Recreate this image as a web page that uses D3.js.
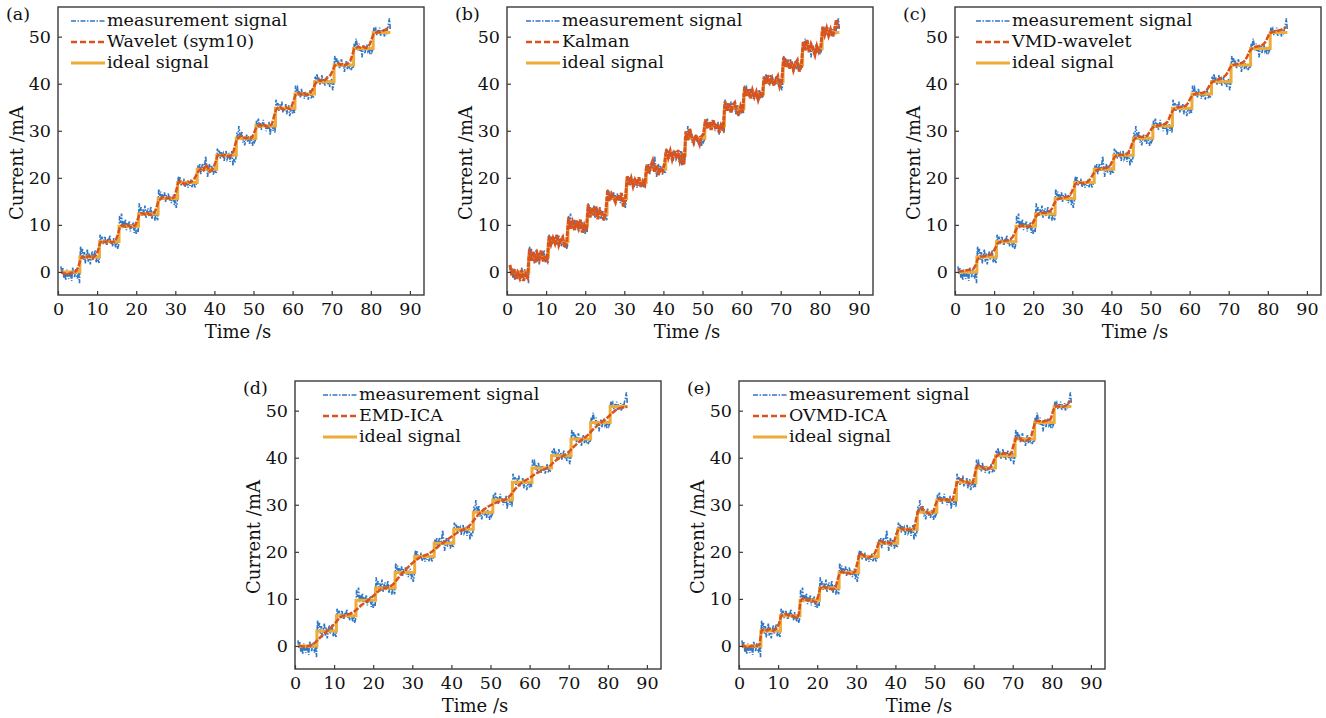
<!DOCTYPE html>
<html>
<head>
<meta charset="utf-8">
<script src="https://cdn.jsdelivr.net/npm/d3@7"></script>
<style>
  body { margin: 0; background: #fff; }
  svg text { font-family: "DejaVu Serif", serif; fill: #111; }
</style>
</head>
<body>
<div id="chart"></div>
<script>
// ---- data ----
// measurement signal, sampled every 0.25 s starting at 0.75 s, one row per 5 s step
var measT0 = 0.75, measDt = 0.25;
var measurement = [
  1.2, -0.4, 0.8, -1.2, -0.3, -1.8, 0.5, -0.9, -1.5, 0.3, -0.6, -1.9, 0.9, -0.2, -1.1, 0.6, -0.8, -1.4, 0.2, -2.4,
  5.4, 3.8, 4.9, 2.6, 4.2, 1.8, 3.5, 4.8, 2.2, 3.9, 1.6, 3.1, 4.4, 2.5, 3.7, 4.6, 2.0, 3.3, 2.4, 1.9,
  7.9, 6.8, 7.5, 5.9, 6.9, 7.6, 6.2, 5.6, 7.1, 6.5, 7.8, 6.0, 6.7, 5.4, 7.2, 6.3, 5.2, 6.6, 4.9, 5.7,
  11.9, 10.4, 12.4, 9.3, 10.8, 9.9, 11.2, 8.9, 10.3, 9.5, 10.9, 8.6, 10.1, 9.2, 10.6, 8.3, 9.8, 8.1, 9.0, 8.5,
  14.6, 12.9, 13.8, 11.9, 13.3, 12.5, 14.1, 11.4, 12.8, 13.5, 11.8, 12.6, 13.9, 11.2, 12.4, 13.1, 10.9, 12.2, 11.5, 11.0,
  17.6, 16.2, 17.1, 15.3, 16.5, 15.8, 16.9, 14.9, 16.3, 15.5, 16.7, 15.1, 16.0, 14.6, 15.9, 16.4, 14.2, 15.4, 13.6, 14.8,
  20.3, 19.5, 20.1, 18.4, 19.2, 18.7, 19.8, 18.1, 19.4, 18.6, 17.9, 19.1, 18.3, 19.6, 18.0, 18.8, 19.3, 17.8, 18.5, 19.0,
  22.6, 21.4, 22.9, 20.8, 22.2, 23.1, 21.5, 22.4, 24.6, 22.7, 20.2, 21.6, 23.0, 21.1, 22.5, 21.9, 20.7, 22.3, 21.3, 20.9,
  26.2, 25.4, 25.9, 24.1, 25.6, 24.7, 25.2, 23.6, 24.9, 25.7, 23.9, 24.4, 25.3, 23.4, 24.6, 25.8, 22.6, 24.0, 23.2, 24.3,
  29.6, 28.8, 31.0, 29.4, 28.2, 29.9, 27.5, 28.6, 26.9, 28.0, 29.2, 27.7, 28.5, 27.2, 28.9, 27.9, 26.8, 28.3, 27.6, 28.1,
  32.1, 31.5, 32.6, 30.6, 31.8, 30.2, 31.3, 32.3, 30.8, 31.6, 29.9, 31.1, 30.4, 31.9, 29.1, 30.7, 31.4, 30.0, 30.9, 29.6,
  36.6, 35.3, 35.9, 34.2, 35.6, 34.6, 36.2, 33.9, 35.1, 34.4, 35.8, 33.5, 34.9, 35.4, 33.1, 34.1, 35.0, 33.6, 34.3, 33.8,
  39.6, 38.7, 39.2, 37.4, 38.5, 37.1, 38.9, 37.6, 38.2, 36.8, 38.4, 37.3, 38.0, 36.6, 37.9, 38.6, 36.9, 37.5, 37.0, 37.7,
  41.6, 40.9, 42.1, 40.2, 41.3, 39.8, 40.7, 41.8, 40.0, 41.1, 39.6, 40.5, 41.5, 39.9, 40.8, 39.3, 40.3, 41.0, 38.6, 39.7,
  45.9, 44.6, 45.4, 43.8, 44.9, 43.3, 44.5, 45.2, 43.6, 44.2, 42.5, 43.9, 44.8, 43.1, 44.4, 43.5, 44.1, 42.9, 43.7, 43.2,
  48.6, 47.9, 49.6, 48.2, 47.1, 48.5, 46.8, 47.7, 45.6, 47.3, 48.1, 46.5, 47.6, 48.3, 46.9, 47.4, 46.2, 47.8, 46.7, 47.2,
  52.0, 51.2, 51.7, 50.3, 51.5, 50.6, 51.9, 50.1, 51.1, 50.8, 51.6, 49.9, 51.3, 50.5, 51.8, 52.6, 53.9, 51.4
];

// ideal staircase: step start times and levels, ends at 85 s
var idealTimes = [0.75, 5.6, 10.6, 15.6, 20.6, 25.6, 30.6, 35.6, 40.6, 45.6, 50.6, 55.6, 60.6, 65.6, 70.6, 75.6, 80.6];
var idealLevels = [0, 3.2, 6.4, 9.7, 12.3, 15.6, 19.0, 21.8, 24.8, 28.4, 31.0, 34.8, 37.8, 40.4, 44.0, 47.5, 50.9];
var idealEnd = 85;

// denoised outputs, every 0.5 s from 0.75 s
var filtT0 = 0.75, filtDt = 0.5;
var wavelet = [
  0.1, -0.2, -0.4, -0.3, -0.5, -0.2, -0.1, 0.0, 0.3, 1.2,
  2.6, 3.3, 3.1, 2.9, 3.4, 3.2, 2.8, 3.3, 3.6, 4.6,
  6.1, 6.6, 6.4, 6.3, 6.7, 6.5, 6.2, 6.4, 6.6, 7.8,
  9.3, 9.9, 9.8, 9.6, 10.0, 9.7, 9.5, 9.8, 9.9, 10.9,
  12.0, 12.5, 12.4, 12.2, 12.6, 12.3, 12.1, 12.4, 12.7, 13.9,
  15.2, 15.5, 15.9, 15.7, 15.6, 15.8, 15.5, 15.7, 15.9, 17.4,
  18.9, 19.3, 19.1, 18.6, 18.8, 19.2, 19.0, 19.3, 19.6, 20.4,
  21.2, 21.7, 22.0, 21.6, 22.8, 22.4, 21.3, 21.6, 22.1, 23.3,
  24.6, 25.0, 24.8, 24.6, 24.9, 24.7, 24.5, 24.8, 25.1, 26.9,
  28.2, 28.6, 28.9, 28.7, 28.5, 28.4, 28.6, 28.3, 28.8, 29.8,
  30.7, 31.1, 31.3, 30.9, 31.2, 31.0, 30.8, 31.1, 31.5, 33.1,
  34.4, 34.9, 35.1, 34.7, 34.5, 35.0, 34.8, 34.6, 35.2, 36.4,
  37.6, 38.0, 37.9, 37.7, 38.1, 37.8, 37.6, 37.9, 38.3, 39.0,
  39.9, 40.5, 40.8, 40.6, 41.0, 40.7, 41.2, 41.5, 41.9, 42.8,
  43.8, 44.1, 44.3, 44.0, 44.2, 43.9, 44.1, 44.4, 44.8, 46.1,
  47.4, 47.6, 47.9, 47.7, 48.0, 47.8, 47.6, 47.9, 48.4, 49.6,
  50.6, 50.8, 51.0, 50.9, 51.1, 51.3, 51.5, 51.7, 52.0
];
var kalman = [
  1.5, -0.8, 0.6, -1.6, -0.2, -1.3, 0.4, -1.9, -0.5, -1.2,
  4.9, 2.4, 4.3, 2.0, 3.9, 2.7, 4.6, 2.2, 3.5, 2.6,
  7.6, 5.9, 7.2, 6.1, 7.9, 5.7, 6.8, 7.4, 5.2, 6.3,
  11.6, 9.2, 10.6, 8.9, 10.9, 9.4, 11.1, 8.4, 9.9, 8.7,
  14.3, 11.6, 13.6, 12.0, 13.9, 11.2, 13.1, 12.5, 11.0, 12.8,
  17.4, 15.1, 16.6, 15.9, 14.8, 16.3, 15.2, 16.8, 13.9, 15.4,
  20.4, 18.5, 19.9, 18.2, 19.6, 18.8, 20.1, 18.0, 19.3, 18.6,
  22.8, 21.0, 22.5, 23.6, 21.3, 22.7, 20.6, 22.1, 21.5, 22.9,
  26.0, 24.3, 25.7, 23.9, 25.3, 24.5, 25.9, 23.5, 24.6, 22.8,
  29.9, 28.0, 30.4, 28.7, 27.5, 29.1, 28.2, 27.1, 28.8, 29.3,
  32.4, 30.5, 31.9, 30.2, 32.2, 30.8, 31.5, 29.6, 31.2, 30.4,
  36.2, 34.3, 35.8, 33.9, 35.5, 36.0, 34.1, 33.3, 35.2, 34.0,
  39.3, 37.4, 38.8, 36.9, 38.6, 37.2, 38.3, 36.6, 37.9, 37.1,
  41.5, 39.9, 41.8, 40.3, 41.2, 39.6, 40.8, 41.6, 39.4, 40.5,
  45.6, 43.6, 45.1, 43.2, 44.7, 42.9, 44.3, 45.0, 42.6, 43.8,
  48.9, 47.1, 49.3, 46.7, 48.4, 47.4, 46.1, 48.0, 46.8, 47.9,
  52.1, 50.4, 51.8, 50.2, 51.5, 50.0, 51.6, 53.6, 51.7
];
var vmdWavelet = [
  0.0, 0.1, 0.2, 0.2, 0.3, 0.4, 0.4, 0.5, 0.7, 1.4,
  2.6, 3.1, 3.3, 3.3, 3.4, 3.5, 3.6, 3.8, 4.2, 5.0,
  5.9, 6.3, 6.4, 6.5, 6.6, 6.7, 6.8, 7.0, 7.4, 8.3,
  9.2, 9.6, 9.8, 9.8, 9.8, 9.7, 9.6, 9.7, 10.2, 11.0,
  11.8, 12.3, 12.5, 12.6, 12.6, 12.6, 12.7, 12.9, 13.4, 14.3,
  15.0, 15.4, 15.6, 15.7, 15.8, 15.9, 16.0, 16.2, 16.8, 17.8,
  18.6, 18.9, 19.0, 18.9, 18.8, 18.9, 19.1, 19.4, 19.9, 20.7,
  21.3, 21.6, 21.8, 21.9, 22.0, 22.1, 22.1, 22.3, 22.7, 23.6,
  24.3, 24.7, 24.8, 24.8, 24.9, 24.9, 25.0, 25.3, 26.0, 27.2,
  28.0, 28.5, 28.7, 28.8, 28.7, 28.7, 28.8, 29.1, 29.7, 30.4,
  30.8, 31.0, 31.1, 31.1, 31.2, 31.3, 31.5, 31.8, 32.6, 33.7,
  34.3, 34.7, 34.9, 35.0, 35.1, 35.1, 35.2, 35.5, 36.1, 37.0,
  37.5, 37.8, 37.9, 37.9, 38.0, 38.0, 38.2, 38.5, 39.1, 39.9,
  40.3, 40.6, 40.8, 40.9, 41.1, 41.3, 41.5, 41.8, 42.4, 43.3,
  43.8, 44.0, 44.1, 44.2, 44.3, 44.4, 44.6, 45.0, 45.8, 46.8,
  47.3, 47.6, 47.8, 47.9, 48.0, 48.1, 48.3, 48.7, 49.5, 50.4,
  50.8, 51.0, 51.1, 51.2, 51.3, 51.4, 51.6, 51.8, 52.0
];
var ovmdIca = [
  0.3, 0.0, -0.3, -0.4, -0.2, 0.0, -0.1, 0.0, 0.1, 0.3,
  3.2, 3.5, 3.4, 3.3, 3.6, 3.4, 3.2, 3.5, 3.9, 4.8,
  6.3, 6.6, 6.8, 6.7, 6.5, 6.6, 6.4, 6.1, 5.9, 6.6,
  9.5, 10.1, 10.0, 9.8, 9.6, 9.9, 9.7, 9.4, 9.3, 10.6,
  12.1, 12.7, 12.6, 12.3, 12.4, 12.2, 12.0, 12.1, 12.5, 14.2,
  15.4, 15.9, 15.6, 15.3, 15.5, 15.4, 15.2, 15.5, 15.9, 17.6,
  19.4, 19.6, 19.3, 19.0, 18.8, 18.7, 19.0, 19.3, 19.7, 20.8,
  21.9, 22.3, 22.1, 21.8, 21.9, 22.0, 21.7, 21.9, 22.4, 23.8,
  24.8, 25.1, 24.9, 24.7, 24.6, 24.8, 24.7, 24.6, 24.9, 26.8,
  28.5, 29.2, 29.4, 28.9, 28.6, 28.3, 28.0, 28.1, 28.6, 30.0,
  31.0, 31.3, 31.1, 30.9, 31.0, 31.2, 30.9, 30.8, 31.3, 33.2,
  34.7, 35.2, 35.4, 35.1, 34.8, 34.9, 34.6, 34.3, 34.6, 36.3,
  38.0, 38.4, 38.2, 37.9, 37.6, 37.5, 37.7, 37.9, 38.4, 39.6,
  40.2, 40.6, 40.9, 40.8, 41.0, 40.9, 40.6, 40.7, 41.3, 42.8,
  44.0, 44.3, 44.1, 43.8, 43.6, 43.5, 43.7, 44.0, 44.6, 46.2,
  47.6, 47.9, 47.8, 47.6, 47.7, 47.8, 47.9, 47.8, 48.3, 49.8,
  50.8, 51.0, 50.9, 50.7, 50.8, 50.9, 51.2, 51.6, 52.1
];
// EMD-ICA is smooth, one value per second from 1 s
var emdT0 = 1, emdDt = 1;
var emdIca = [
  0.0, -0.1, -0.1, 0.1, 0.6,
  1.4, 2.3, 3.0, 3.7, 4.6,
  5.6, 6.3, 6.6, 6.8, 7.2,
  7.9, 8.7, 9.3, 9.9, 10.6,
  11.4, 12.0, 12.3, 12.5, 13.0,
  14.0, 15.1, 16.0, 16.8, 17.6,
  18.3, 18.8, 19.2, 19.5, 20.0,
  20.7, 21.4, 22.0, 22.6, 23.2,
  23.8, 24.3, 24.7, 25.1, 25.9,
  27.0, 28.0, 28.8, 29.4, 29.9,
  30.3, 30.6, 30.9, 31.2, 31.9,
  33.0, 34.0, 34.7, 35.2, 35.7,
  36.3, 36.8, 37.2, 37.6, 38.1,
  38.9, 39.6, 40.1, 40.6, 41.2,
  42.1, 42.9, 43.6, 44.2, 44.9,
  45.8, 46.6, 47.3, 47.9, 48.6,
  49.4, 50.1, 50.5, 50.7, 50.8
];

var xTicks = [0, 10, 20, 30, 40, 50, 60, 70, 80, 90];
var yTicks = [0, 10, 20, 30, 40, 50];

// ---- layout ----
var W = 1326, H = 718;
var pw = 366, ph = 288;
var xDomain = [0, 93.6], yDomain = [-4.9, 56.3];
var cMeas = "#2f76c4", cFilt = "#d9531e", cIdeal = "#eeab38";

var panels = [
  {tag: "(a)", name: "Wavelet (sym10)", vals: wavelet, t0: filtT0, dt: filtDt, left: 58, top: 7, legDx: 13},
  {tag: "(b)", name: "Kalman", vals: kalman, t0: filtT0, dt: filtDt, left: 507, top: 7, legDx: 19},
  {tag: "(c)", name: "VMD-wavelet", vals: vmdWavelet, t0: filtT0, dt: filtDt, left: 955, top: 7, legDx: 21},
  {tag: "(d)", name: "EMD-ICA", vals: emdIca, t0: emdT0, dt: emdDt, left: 295, top: 381, legDx: 28},
  {tag: "(e)", name: "OVMD-ICA", vals: ovmdIca, t0: filtT0, dt: filtDt, left: 739, top: 381, legDx: 14}
];

var svg = d3.select("#chart").append("svg")
    .attr("width", W)
    .attr("height", H);

var x = d3.scaleLinear().domain(xDomain).range([0, pw]);
var y = d3.scaleLinear().domain(yDomain).range([ph, 0]);

var line = d3.line()
    .x(function(d) { return x(d[0]); })
    .y(function(d) { return y(d[1]); });
var stepLine = d3.line()
    .x(function(d) { return x(d[0]); })
    .y(function(d) { return y(d[1]); })
    .curve(d3.curveStepAfter);

var measPts = measurement.map(function(v, i) { return [measT0 + i * measDt, v]; });
var idealPts = idealTimes.map(function(t, i) { return [t, idealLevels[i]]; });
idealPts.push([idealEnd, idealLevels[idealLevels.length - 1]]);

panels.forEach(function(p) {
    var g = svg.append("g")
        .attr("transform", "translate(" + p.left + "," + p.top + ")");
    var isKalman = p.tag == "(b)";

    // measurement signal (dash-dot)
    g.append("path")
        .datum(measPts)
        .attr("fill", "none")
        .attr("stroke", cMeas)
        .attr("stroke-width", 1.6)
        .attr("stroke-dasharray", "5,1.5,1.5,1.5")
        .attr("d", line);

    // ideal staircase
    g.append("path")
        .datum(idealPts)
        .attr("fill", "none")
        .attr("stroke", cIdeal)
        .attr("stroke-width", 3)
        .attr("d", stepLine);

    // denoised output (dashed)
    var fPts = p.vals.map(function(v, i) { return [p.t0 + i * p.dt, v]; });
    g.append("path")
        .datum(fPts)
        .attr("fill", "none")
        .attr("stroke", cFilt)
        .attr("stroke-width", isKalman ? 3 : 2.5)
        .attr("stroke-dasharray", isKalman ? "5,0.8" : "6,1.5")
        .attr("d", line);

    // frame
    g.append("rect")
        .attr("width", pw)
        .attr("height", ph)
        .attr("fill", "none")
        .attr("stroke", "#3a3a3a")
        .attr("stroke-width", 1.4);

    // axes, ticks pointing inside
    var gx = g.append("g")
        .attr("transform", "translate(0," + ph + ")")
        .call(d3.axisBottom(x).tickValues(xTicks).tickSizeInner(-4).tickSizeOuter(0).tickPadding(8));
    var gy = g.append("g")
        .call(d3.axisLeft(y).tickValues(yTicks).tickSizeInner(-4).tickSizeOuter(0).tickPadding(7));
    [gx, gy].forEach(function(a) {
        a.select(".domain").remove();
        a.selectAll("line").attr("stroke", "#3a3a3a").attr("stroke-width", 1.2);
        a.selectAll("text")
            .style("font-family", "'DejaVu Serif', serif")
            .style("font-size", "17.5px")
            .attr("fill", "#111");
    });

    // axis titles
    g.append("text")
        .attr("x", pw / 2 - 3)
        .attr("y", ph + 43)
        .attr("text-anchor", "middle")
        .style("font-size", "18px")
        .text("Time /s");
    g.append("text")
        .attr("transform", "translate(-35," + (ph / 2 + 12) + ") rotate(-90)")
        .attr("text-anchor", "middle")
        .style("font-size", "18px")
        .text("Current /mA");

    // panel tag
    g.append("text")
        .attr("x", -52)
        .attr("y", 13)
        .style("font-size", "17.5px")
        .text(p.tag);

    // legend
    var leg = [
        {label: "measurement signal", color: cMeas, dash: "5,1.5,1.5,1.5", w: 1.4},
        {label: p.name, color: cFilt, dash: "6,3", w: 2.4},
        {label: "ideal signal", color: cIdeal, dash: null, w: 3}
    ];
    leg.forEach(function(l, i) {
        var ly = 14 + i * 21;
        g.append("line")
            .attr("x1", p.legDx)
            .attr("x2", p.legDx + 34)
            .attr("y1", ly)
            .attr("y2", ly)
            .attr("stroke", l.color)
            .attr("stroke-width", l.w)
            .attr("stroke-dasharray", l.dash);
        g.append("text")
            .attr("x", p.legDx + 36)
            .attr("y", ly + 5)
            .style("font-size", "17.5px")
            .text(l.label);
    });
});
</script>
</body>
</html>
